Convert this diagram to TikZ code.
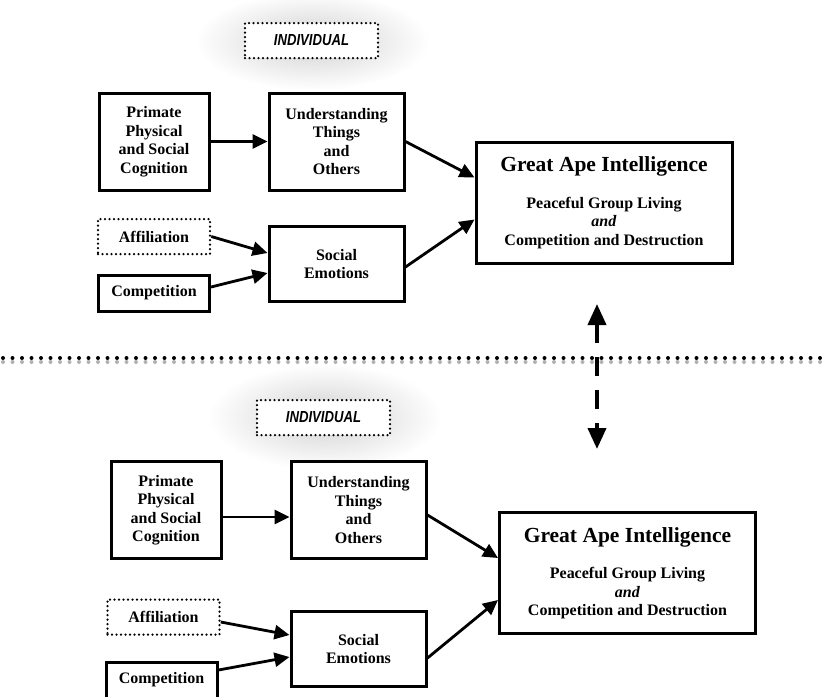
\documentclass[tikz,border=0pt]{standalone}
\usepackage{fontspec}
\setmainfont{Liberation Serif}
\newfontfamily\indsans[FakeStretch=0.82]{Liberation Sans}
\usetikzlibrary{positioning, arrows.meta}
\newcommand\boxfont{\fontsize{16}{18.5}\selectfont\bfseries}
\newcommand\indfont{\indsans\fontsize{16}{18}\selectfont\bfseries\itshape}
\newcommand\gatitle[1]{{\fontsize{21.5}{24}\selectfont #1}}
\tikzset{
    box/.style={draw, fill=white, line width=3pt, align=center, inner sep=0pt, font=\boxfont},
    dotbox/.style={draw, fill=white, line width=2.5pt, dash pattern=on 0pt off 4.5pt, line cap=round, align=center, inner sep=0pt},
    cogbox/.style={box, minimum width=110pt, minimum height=97pt},
    midbox/.style={box, minimum width=135pt, minimum height=97pt},
    emobox/.style={box, minimum width=135pt, minimum height=75pt},
    compbox/.style={box, minimum width=111pt, minimum height=36pt},
    affbox/.style={dotbox, font=\boxfont, minimum width=112pt, minimum height=35pt},
    indbox/.style={dotbox, font=\indfont, minimum width=133pt, minimum height=35pt},
    gabox/.style={box, minimum width=256pt, minimum height=121pt},
    link/.style={->, line width=2.8pt},
    sepline/.style={line width=4pt, dash pattern=on 0pt off 9.5pt, line cap=round},
    sepshadow/.style={sepline, draw=black!30},
    halo/.style={inner color=black!18, outer color=white}
}

\begin{document}
\begin{tikzpicture}[x=1pt, y=-1pt, >={Triangle[length=15pt, width=14pt]}]
  \useasboundingbox (0,0) rectangle (823,697);
  % soft glow behind the labels
  \shade[halo] (195,-8) rectangle (430,90);
  \shade[halo] (208,364) rectangle (442,470);
  % upper panel
  \node(indA)[indbox] at (311.5,40.5){INDIVIDUAL};
  \node(primA)[cogbox] at (154,141.5){Primate\\Physical\\and Social\\Cognition};
  \node(undA)[midbox] at (336.5,141.5){Understanding\\Things\\and\\Others};
  \node(affA)[affbox] at (154,236.5){Affiliation};
  \node(compA)[compbox] at (154,293){Competition};
  \node(socA)[emobox] at (336.5,264){Social\\Emotions};
  \node(gaA)[gabox] at (604,202.5){\gatitle{Great Ape Intelligence}\\[18pt]Peaceful Group Living\\\textit{and}\\Competition and Destruction};
  \draw[link](primA.east)--(undA.west);
  \draw[link](undA.east)--([yshift=25pt]gaA.west);
  \draw[link]([yshift=-3pt]socA.east)--([yshift=-17pt]gaA.west);
  \draw[link](affA.east)--([yshift=11pt]socA.west);
  \draw[link]([yshift=6pt]compA.east)--([yshift=-9pt]socA.west);
  % separator
  \coordinate(sepL) at (3,358);
  \coordinate(sepR) at (823,358);
  \draw[sepshadow]([yshift=-4pt]sepL)--([yshift=-4pt]sepR);
  \draw[sepline](sepL)--(sepR);
  \coordinate(up) at (597,304);
  \coordinate(down) at (597,449);
  \draw[<->, line width=3.8pt, dash pattern=on 19pt off 14pt, >={Triangle[length=21pt, width=18pt]}](up)--(down);
  % lower panel
  \node(indB)[indbox] at (323.5,417.5){INDIVIDUAL};
  \node(primB)[cogbox] at (166,510){Primate\\Physical\\and Social\\Cognition};
  \node(undB)[midbox] at (358.5,510){Understanding\\Things\\and\\Others};
  \node(affB)[affbox] at (163.5,617){Affiliation};
  \node(compB)[compbox] at (161.5,680){Competition};
  \node(socB)[emobox] at (358.5,649){Social\\Emotions};
  \node(gaB)[gabox] at (627.5,573){\gatitle{Great Ape Intelligence}\\[18pt]Peaceful Group Living\\\textit{and}\\Competition and Destruction};
  \draw[link]([yshift=-7pt]primB.east)--([yshift=-7pt]undB.west);
  \draw[link]([yshift=-5pt]undB.east)--([yshift=15pt]gaB.west);
  \draw[link]([yshift=-9pt]socB.east)--([yshift=-27pt]gaB.west);
  \draw[link]([yshift=-5pt]affB.east)--([yshift=14pt]socB.west);
  \draw[link]([yshift=10pt]compB.east)--([yshift=-8pt]socB.west);
\end{tikzpicture}
\end{document}
